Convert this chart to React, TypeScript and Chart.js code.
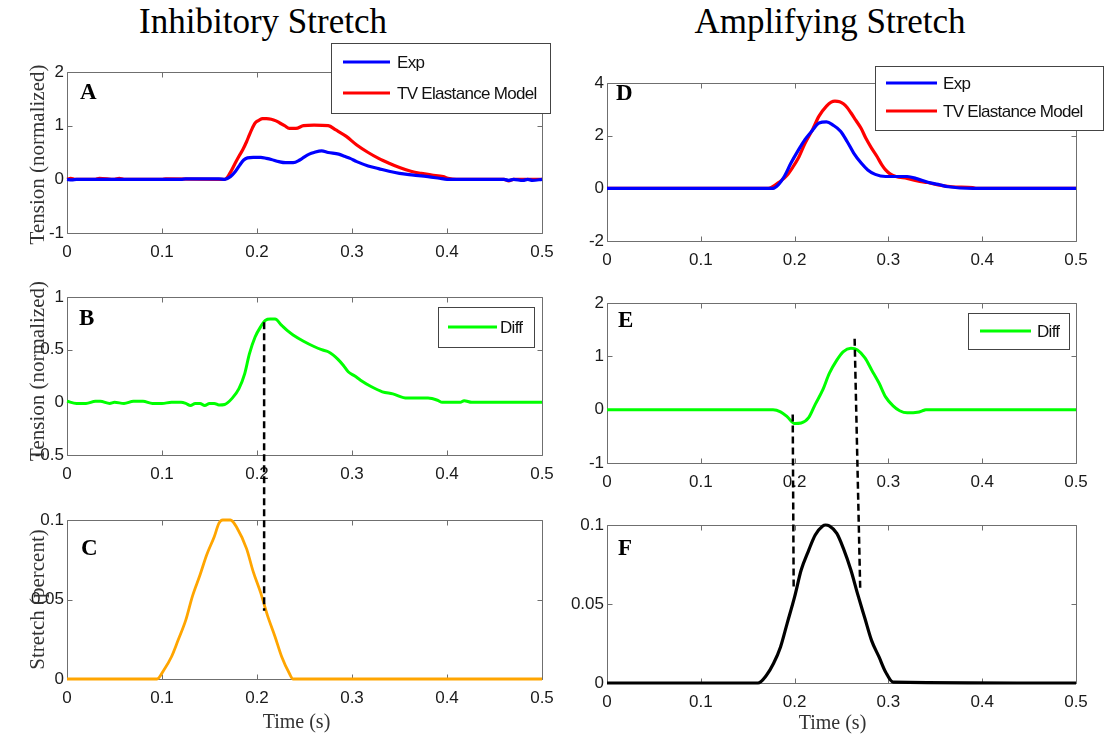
import React, { useEffect, useRef } from "react";
import { Chart, registerables } from "chart.js";

Chart.register(...registerables);

// ---------- shared ticks ----------
const xTicks = [0, 0.1, 0.2, 0.3, 0.4, 0.5];
const xTickLabels = ["0", "0.1", "0.2", "0.3", "0.4", "0.5"];

const yTicksA = [-1, 0, 1, 2];
const yLabelsA = ["-1", "0", "1", "2"];
const yTicksB = [-0.5, 0, 0.5, 1];
const yLabelsB = ["-0.5", "0", "0.5", "1"];
const yTicksC = [0, 0.05, 0.1];
const yLabelsC = ["0", "0.05", "0.1"];
const yTicksD = [-2, 0, 2, 4];
const yLabelsD = ["-2", "0", "2", "4"];
const yTicksE = [-1, 0, 1, 2];
const yLabelsE = ["-1", "0", "1", "2"];
const yTicksF = [0, 0.05, 0.1];
const yLabelsF = ["0", "0.05", "0.1"];

// ---------- Panel A : Inhibitory, tension ----------
const tA_exp = [0, 0.005, 0.01, 0.12, 0.125, 0.135, 0.145, 0.15, 0.16, 0.166, 0.172, 0.177, 0.182, 0.186, 0.19, 0.196, 0.204, 0.21, 0.215, 0.223, 0.23, 0.238, 0.245, 0.25, 0.255, 0.26, 0.268, 0.275, 0.286, 0.292, 0.298, 0.305, 0.317, 0.328, 0.339, 0.35, 0.365, 0.38, 0.392, 0.4, 0.46, 0.465, 0.47, 0.48, 0.485, 0.49, 0.5];
const vA_exp = [0, -0.01, 0, 0, 0.01, 0.01, 0.01, 0.01, 0.01, 0.0, 0.05, 0.14, 0.27, 0.36, 0.4, 0.41, 0.41, 0.39, 0.37, 0.33, 0.31, 0.31, 0.36, 0.42, 0.47, 0.5, 0.53, 0.5, 0.47, 0.43, 0.39, 0.33, 0.25, 0.2, 0.15, 0.11, 0.08, 0.05, 0.02, 0, 0, -0.02, 0, -0.02, 0, -0.02, 0];
const tA_mod = [0, 0.004, 0.008, 0.03, 0.034, 0.05, 0.055, 0.06, 0.1, 0.104, 0.166, 0.172, 0.177, 0.181, 0.185, 0.189, 0.192, 0.195, 0.198, 0.202, 0.206, 0.21, 0.215, 0.22, 0.224, 0.229, 0.234, 0.241, 0.249, 0.26, 0.275, 0.283, 0.294, 0.305, 0.317, 0.328, 0.339, 0.35, 0.362, 0.373, 0.384, 0.396, 0.401, 0.41, 0.46, 0.465, 0.47, 0.5];
const vA_mod = [0, 0.02, 0, 0, 0.02, 0, 0.02, 0, 0, 0.01, 0, 0.13, 0.3, 0.43, 0.55, 0.7, 0.83, 0.95, 1.05, 1.1, 1.13, 1.13, 1.12, 1.09, 1.05, 1.0, 0.95, 0.95, 1.0, 1.01, 1.0, 0.92, 0.8, 0.64, 0.5, 0.39, 0.3, 0.22, 0.15, 0.11, 0.08, 0.05, 0.02, 0, 0, -0.03, 0, 0];

// ---------- Panel B : Inhibitory, difference ----------
const tB_diff = [0, 0.01, 0.02, 0.03, 0.035, 0.045, 0.05, 0.06, 0.07, 0.08, 0.09, 0.1, 0.11, 0.12, 0.125, 0.13, 0.135, 0.14, 0.145, 0.15, 0.155, 0.16, 0.166, 0.174, 0.181, 0.187, 0.192, 0.198, 0.204, 0.209, 0.214, 0.219, 0.226, 0.232, 0.238, 0.249, 0.26, 0.268, 0.275, 0.28, 0.285, 0.291, 0.296, 0.303, 0.309, 0.32, 0.332, 0.343, 0.358, 0.38, 0.39, 0.395, 0.414, 0.418, 0.426, 0.5];
const vB_diff = [0.01, -0.01, -0.01, 0.01, 0.01, -0.01, 0, -0.01, 0.01, 0.01, -0.01, -0.01, 0, 0, -0.01, -0.03, -0.01, -0.01, -0.03, -0.01, -0.01, -0.025, -0.02, 0.04, 0.13, 0.27, 0.46, 0.62, 0.72, 0.78, 0.79, 0.79, 0.73, 0.68, 0.64, 0.58, 0.53, 0.5, 0.48, 0.45, 0.41, 0.35, 0.29, 0.25, 0.21, 0.15, 0.1, 0.08, 0.04, 0.04, 0.02, 0, 0, 0.015, 0, 0];

// ---------- Panel C : Inhibitory, stretch ----------
const tC_str = [0, 0.0947, 0.102, 0.11, 0.117, 0.125, 0.132, 0.14, 0.147, 0.155, 0.16, 0.164, 0.172, 0.179, 0.189, 0.196, 0.204, 0.211, 0.219, 0.226, 0.234, 0.238, 0.5];
const vC_str = [0, 0, 0.0057, 0.014, 0.0245, 0.037, 0.052, 0.0654, 0.078, 0.0895, 0.098, 0.1, 0.1, 0.095, 0.082, 0.0675, 0.054, 0.04, 0.0266, 0.014, 0.0036, 0, 0];

// ---------- Panel D : Amplifying, tension ----------
const tD_exp = [0, 0.177, 0.183, 0.189, 0.196, 0.204, 0.211, 0.219, 0.226, 0.234, 0.241, 0.249, 0.256, 0.263, 0.271, 0.278, 0.286, 0.297, 0.308, 0.32, 0.331, 0.342, 0.353, 0.364, 0.39, 0.5];
const vD_exp = [0, 0, 0.15, 0.45, 0.95, 1.45, 1.85, 2.2, 2.48, 2.52, 2.4, 2.17, 1.78, 1.34, 0.96, 0.7, 0.53, 0.45, 0.45, 0.45, 0.36, 0.23, 0.15, 0.06, 0, 0];
const tD_mod = [0, 0.172, 0.176, 0.181, 0.186, 0.192, 0.198, 0.204, 0.211, 0.219, 0.226, 0.234, 0.239, 0.243, 0.248, 0.252, 0.256, 0.26, 0.265, 0.271, 0.276, 0.282, 0.288, 0.293, 0.297, 0.301, 0.308, 0.32, 0.331, 0.342, 0.353, 0.368, 0.39, 0.394, 0.5];
const vD_mod = [0, 0, 0.05, 0.17, 0.3, 0.5, 0.8, 1.15, 1.7, 2.22, 2.74, 3.12, 3.27, 3.31, 3.29, 3.21, 3.07, 2.87, 2.6, 2.27, 1.9, 1.53, 1.2, 0.89, 0.7, 0.57, 0.45, 0.38, 0.28, 0.22, 0.13, 0.06, 0.03, 0, 0];

// ---------- Panel E : Amplifying, difference ----------
const tE_diff = [0, 0.177, 0.185, 0.192, 0.2, 0.207, 0.215, 0.222, 0.23, 0.237, 0.245, 0.252, 0.26, 0.267, 0.275, 0.282, 0.29, 0.297, 0.305, 0.312, 0.32, 0.331, 0.338, 0.34, 0.5];
const vE_diff = [0, 0, -0.04, -0.13, -0.26, -0.25, -0.15, 0.1, 0.37, 0.68, 0.93, 1.09, 1.15, 1.12, 0.97, 0.75, 0.5, 0.24, 0.07, -0.02, -0.06, -0.05, -0.01, 0, 0];

// ---------- Panel F : Amplifying, stretch ----------
const tF_str = [0, 0.161, 0.17, 0.1775, 0.185, 0.192, 0.2, 0.207, 0.215, 0.222, 0.23, 0.233, 0.237, 0.245, 0.252, 0.26, 0.267, 0.275, 0.282, 0.29, 0.297, 0.305, 0.5];
const vF_str = [0, 0, 0.0049, 0.0123, 0.0228, 0.0376, 0.0545, 0.0715, 0.084, 0.0937, 0.0994, 0.1, 0.0994, 0.0947, 0.0852, 0.0715, 0.0567, 0.0408, 0.027, 0.0165, 0.007, 0.0006, 0];

// ---------- dashed connectors (data coordinates) ----------
const linkFrom = ["B", "E", "E"];
const linkTo = ["C", "F", "F"];
const linkX1 = [0.2075, 0.198, 0.264];
const linkY1 = [0.76, -0.09, 1.33];
const linkX2 = [0.2075, 0.199, 0.27];
const linkY2 = [0.043, 0.061, 0.058];

// ---------- layout / style ----------
const PAD_T = 45;
const PAD_R = 33;
const Y_W = 67;
const X_H = 58;
const TICK = 5;
const AXIS = "#6f6f6f";
const TXT = "#1a1a1a";
const SANS = '"Liberation Sans", Arial, sans-serif';
const SERIF = '"Liberation Serif", "Times New Roman", serif';

type Series = { t: number[]; v: number[]; label: string; color: string; width: number };
type Legend = { x: number; y: number; w: number; h: number; rows: number[]; s0: number; s1: number; tx: number };
type Panel = {
  key: string;
  L: number; T: number; R: number; B: number;
  yMin: number; yMax: number; yTicks: number[]; yLabels: string[];
  series: Series[];
  letter: { dx: number; dy: number };
  yTitle?: { text: string; dx: number; dy: number };
  xTitle?: { text: string; dx: number; dy: number };
  legend?: Legend;
};

const PANELS: Panel[] = [
  {
    key: "A", L: 67, T: 72, R: 542, B: 233, yMin: -1, yMax: 2, yTicks: yTicksA, yLabels: yLabelsA,
    series: [
      { t: tA_exp, v: vA_exp, label: "Exp", color: "#0000ff", width: 3.2 },
      { t: tA_mod, v: vA_mod, label: "TV Elastance Model", color: "#ff0000", width: 3.2 },
    ],
    letter: { dx: 13, dy: 27 },
    yTitle: { text: "Tension (normalized)", dx: -29, dy: 2 },
    legend: { x: -211, y: -29, w: 219, h: 70, rows: [19, 50], s0: 12, s1: 59, tx: 66 },
  },
  {
    key: "B", L: 67, T: 297, R: 542, B: 455, yMin: -0.5, yMax: 1, yTicks: yTicksB, yLabels: yLabelsB,
    series: [{ t: tB_diff, v: vB_diff, label: "Diff", color: "#00ff00", width: 3 }],
    letter: { dx: 12, dy: 28 },
    yTitle: { text: "Tension (normalized)", dx: -29, dy: -5 },
    legend: { x: -104, y: 10, w: 96, h: 40, rows: [20], s0: 10, s1: 59, tx: 62 },
  },
  {
    key: "C", L: 67, T: 520, R: 542, B: 679, yMin: 0, yMax: 0.1, yTicks: yTicksC, yLabels: yLabelsC,
    series: [{ t: tC_str, v: vC_str, label: "Stretch", color: "#ffa500", width: 2.8 }],
    letter: { dx: 14, dy: 35 },
    yTitle: { text: "Stretch (percent)", dx: -29, dy: 0 },
    xTitle: { text: "Time (s)", dx: -8, dy: 44 },
  },
  {
    key: "D", L: 607, T: 83, R: 1076, B: 241, yMin: -2, yMax: 4, yTicks: yTicksD, yLabels: yLabelsD,
    series: [
      { t: tD_exp, v: vD_exp, label: "Exp", color: "#0000ff", width: 3.2 },
      { t: tD_mod, v: vD_mod, label: "TV Elastance Model", color: "#ff0000", width: 3.2 },
    ],
    letter: { dx: 9, dy: 17 },
    legend: { x: -201, y: -17, w: 228, h: 64, rows: [17, 45], s0: 11, s1: 62, tx: 68 },
  },
  {
    key: "E", L: 607, T: 303, R: 1076, B: 463, yMin: -1, yMax: 2, yTicks: yTicksE, yLabels: yLabelsE,
    series: [{ t: tE_diff, v: vE_diff, label: "Diff", color: "#00ff00", width: 3 }],
    letter: { dx: 11, dy: 24 },
    legend: { x: -108, y: 10, w: 101, h: 36, rows: [18], s0: 12, s1: 63, tx: 69 },
  },
  {
    key: "F", L: 607, T: 525, R: 1076, B: 683, yMin: 0, yMax: 0.1, yTicks: yTicksF, yLabels: yLabelsF,
    series: [{ t: tF_str, v: vF_str, label: "Stretch", color: "#000000", width: 3.2 }],
    letter: { dx: 11, dy: 30 },
    xTitle: { text: "Time (s)", dx: -9, dy: 41 },
  },
];

const cLeft = (p: Panel) => p.L - Y_W;
const cTop = (p: Panel) => p.T - PAD_T;
const cWidth = (p: Panel) => p.R - p.L + Y_W + PAD_R;
const cHeight = (p: Panel) => p.B - p.T + PAD_T + X_H;

function makeDeco(p: Panel) {
  return {
    id: "deco" + p.key,
    beforeDatasetsDraw(chart: any) {
      const { ctx, chartArea: ca, scales } = chart;
      const l = ca.left + 0.5, r = ca.right + 0.5, t = ca.top + 0.5, b = ca.bottom + 0.5;
      ctx.save();
      ctx.strokeStyle = AXIS;
      ctx.lineWidth = 1;
      ctx.beginPath();
      for (const tk of scales.x.ticks) {
        const x = Math.round(scales.x.getPixelForValue(tk.value)) + 0.5;
        ctx.moveTo(x, b); ctx.lineTo(x, b - TICK);
        ctx.moveTo(x, t); ctx.lineTo(x, t + TICK);
      }
      for (const tk of scales.y.ticks) {
        const y = Math.round(scales.y.getPixelForValue(tk.value)) + 0.5;
        ctx.moveTo(l, y); ctx.lineTo(l + TICK, y);
        ctx.moveTo(r, y); ctx.lineTo(r - TICK, y);
      }
      ctx.rect(l, t, r - l, b - t);
      ctx.stroke();
      ctx.restore();
    },
    afterDatasetsDraw(chart: any) {
      const { ctx, chartArea: ca } = chart;
      ctx.save();
      // panel letter
      ctx.fillStyle = "#000";
      ctx.font = `bold 23px ${SERIF}`;
      ctx.textAlign = "left";
      ctx.textBaseline = "alphabetic";
      ctx.fillText(p.key, ca.left + p.letter.dx, ca.top + p.letter.dy);
      // y title
      if (p.yTitle) {
        ctx.save();
        ctx.translate(ca.left + p.yTitle.dx, (ca.top + ca.bottom) / 2 + p.yTitle.dy);
        ctx.rotate(-Math.PI / 2);
        ctx.font = `21px ${SERIF}`;
        ctx.fillStyle = "#333";
        ctx.textAlign = "center";
        ctx.textBaseline = "middle";
        ctx.fillText(p.yTitle.text, 0, 0);
        ctx.restore();
      }
      // x title
      if (p.xTitle) {
        ctx.font = `20px ${SERIF}`;
        ctx.fillStyle = "#333";
        ctx.textAlign = "center";
        ctx.textBaseline = "middle";
        ctx.fillText(p.xTitle.text, (ca.left + ca.right) / 2 + p.xTitle.dx, ca.bottom + p.xTitle.dy);
      }
      // legend
      const lg = p.legend;
      if (lg) {
        const bx = Math.round(ca.right + lg.x), by = Math.round(ca.top + lg.y);
        ctx.fillStyle = "#fff";
        ctx.fillRect(bx, by, lg.w, lg.h);
        ctx.strokeStyle = "#444";
        ctx.lineWidth = 1;
        ctx.strokeRect(bx + 0.5, by + 0.5, lg.w, lg.h);
        chart.data.datasets.forEach((ds: any, k: number) => {
          const yy = by + lg.rows[k];
          ctx.strokeStyle = ds.borderColor;
          ctx.lineWidth = 3;
          ctx.beginPath();
          ctx.moveTo(bx + lg.s0, yy);
          ctx.lineTo(bx + lg.s1, yy);
          ctx.stroke();
          ctx.fillStyle = "#111";
          ctx.font = `17px ${SANS}`;
          (ctx as any).letterSpacing = "-0.7px";
          ctx.textAlign = "left";
          ctx.textBaseline = "middle";
          ctx.fillText(ds.label, bx + lg.tx, yy + 1);
          (ctx as any).letterSpacing = "0px";
        });
      }
      ctx.restore();
    },
  };
}

function createChart(canvas: HTMLCanvasElement, p: Panel) {
  return new Chart(canvas, {
    type: "line",
    data: {
      datasets: p.series.map((s) => ({
        label: s.label,
        data: s.t.map((t, k) => ({ x: t, y: s.v[k] })),
        borderColor: s.color,
        backgroundColor: s.color,
        borderWidth: s.width,
        pointRadius: 0,
        fill: false,
        cubicInterpolationMode: "monotone",
        clip: 4,
      })),
    } as any,
    options: {
      responsive: false,
      animation: false,
      devicePixelRatio: 1,
      events: [],
      layout: { padding: { left: 0, top: PAD_T, right: PAD_R, bottom: 0 } },
      plugins: { legend: { display: false }, tooltip: { enabled: false }, title: { display: false } },
      scales: {
        x: {
          type: "linear",
          min: 0,
          max: 0.5,
          grid: { display: false, drawTicks: false },
          border: { display: false },
          ticks: {
            padding: 9,
            color: TXT,
            font: { family: SANS, size: 17 },
            maxRotation: 0,
            autoSkip: false,
            callback: (_v: any, i: number) => xTickLabels[i],
          },
          afterBuildTicks: (s: any) => { s.ticks = xTicks.map((v) => ({ value: v })); },
          afterFit: (s: any) => { s.height = X_H; },
        },
        y: {
          type: "linear",
          min: p.yMin,
          max: p.yMax,
          grid: { display: false, drawTicks: false },
          border: { display: false },
          ticks: {
            padding: 3,
            color: TXT,
            font: { family: SANS, size: 17 },
            autoSkip: false,
            callback: (_v: any, i: number) => p.yLabels[i],
          },
          afterBuildTicks: (s: any) => { s.ticks = p.yTicks.map((v) => ({ value: v })); },
          afterFit: (s: any) => { s.width = Y_W; },
        },
      },
    } as any,
    plugins: [makeDeco(p)],
  });
}

function drawLinks(canvas: HTMLCanvasElement, charts: Chart[]) {
  const ctx = canvas.getContext("2d")!;
  ctx.clearRect(0, 0, canvas.width, canvas.height);
  const idx = (k: string) => PANELS.findIndex((p) => p.key === k);
  ctx.save();
  ctx.strokeStyle = "#000";
  ctx.lineWidth = 2.5;
  ctx.setLineDash([7, 4]);
  for (let i = 0; i < linkFrom.length; i++) {
    const ia = idx(linkFrom[i]), ib = idx(linkTo[i]);
    const pa = PANELS[ia], pb = PANELS[ib];
    const ca = charts[ia] as any, cb = charts[ib] as any;
    const x1 = cLeft(pa) + ca.scales.x.getPixelForValue(linkX1[i]);
    const y1 = cTop(pa) + ca.scales.y.getPixelForValue(linkY1[i]);
    const x2 = cLeft(pb) + cb.scales.x.getPixelForValue(linkX2[i]);
    const y2 = cTop(pb) + cb.scales.y.getPixelForValue(linkY2[i]);
    ctx.beginPath();
    ctx.moveTo(x1, y1);
    ctx.lineTo(x2, y2);
    ctx.stroke();
  }
  ctx.restore();
}

export default function App() {
  const refs = useRef<(HTMLCanvasElement | null)[]>([]);
  const overlayRef = useRef<HTMLCanvasElement | null>(null);

  useEffect(() => {
    const charts = PANELS.map((p, i) => createChart(refs.current[i]!, p));
    if (overlayRef.current) drawLinks(overlayRef.current, charts);
    return () => charts.forEach((c) => c.destroy());
  }, []);

  const titleStyle = (cx: number): React.CSSProperties => ({
    position: "absolute",
    left: cx - 200,
    top: 2,
    width: 400,
    textAlign: "center",
    fontFamily: SERIF,
    fontSize: 35,
    lineHeight: "40px",
    color: "#000",
    whiteSpace: "nowrap",
  });

  return (
    <div style={{ position: "fixed", left: 0, top: 0, width: 1109, height: 735, overflow: "hidden", background: "#fff" }}>
      <div style={titleStyle(263)}>Inhibitory Stretch</div>
      <div style={titleStyle(830)}>Amplifying Stretch</div>
      {PANELS.map((p, i) => (
        <canvas
          key={p.key}
          ref={(el) => { refs.current[i] = el; }}
          width={cWidth(p)}
          height={cHeight(p)}
          style={{ position: "absolute", left: cLeft(p), top: cTop(p), width: cWidth(p), height: cHeight(p) }}
        />
      ))}
      <canvas
        ref={overlayRef}
        width={1109}
        height={735}
        style={{ position: "absolute", left: 0, top: 0, width: 1109, height: 735, pointerEvents: "none" }}
      />
    </div>
  );
}
